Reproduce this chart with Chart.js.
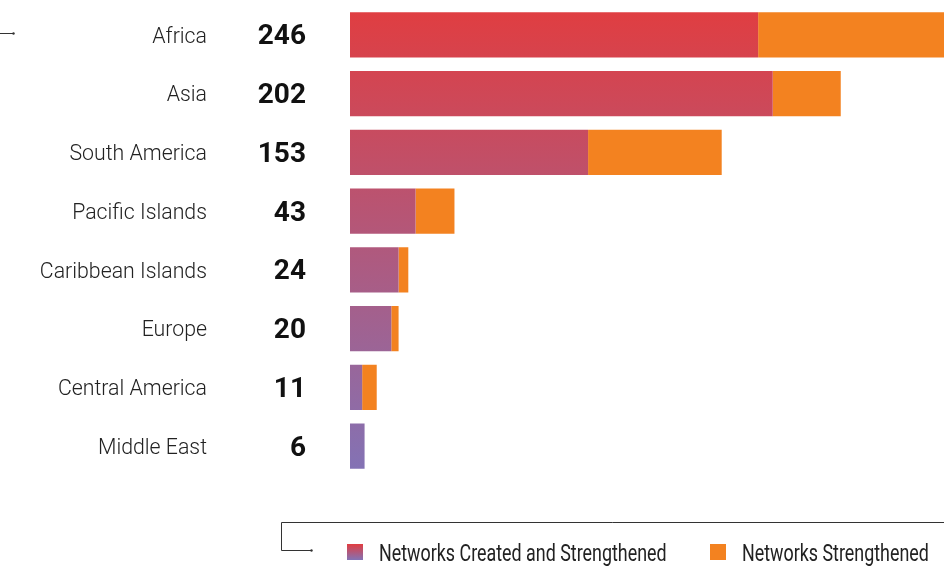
<!DOCTYPE html>
<html>
<head>
<meta charset="utf-8">
<script src="https://cdn.jsdelivr.net/npm/chart.js@4"></script>
<style>
  body { margin: 0; background: #fff; }
  #wrap { width: 944px; height: 566px; position: relative; }
</style>
</head>
<body>
<div id="wrap"><canvas id="chart"></canvas></div>
<script>
const regions = ['Africa', 'Asia', 'South America', 'Pacific Islands', 'Caribbean Islands', 'Europe', 'Central America', 'Middle East'];
const createdAndStrengthened = [168, 174, 98, 27, 20, 17, 5, 6];
const strengthened = [78, 28, 55, 16, 4, 3, 6, 0];
const totals = regions.map((r, i) => createdAndStrengthened[i] + strengthened[i]);
const legendLabels = ['Networks Created and Strengthened', 'Networks Strengthened'];

const RED = '#e13d40';
const PURPLE = '#8273b6';
const ORANGE = '#f38220';

function barGradient(ctx) {
  const chart = ctx.chart;
  const a = chart.chartArea;
  if (!a) return RED;
  const g = chart.ctx.createLinearGradient(0, a.top, 0, a.bottom);
  g.addColorStop(0, RED);
  g.addColorStop(1, PURPLE);
  return g;
}

// totals, arrows and the legend at the bottom
const decor = {
  id: 'decor',
  afterDraw(chart) {
    const c = chart.ctx;
    const y = chart.scales.y;
    c.save();
    c.fillStyle = '#111';
    c.font = 'bold 28px Roboto';
    c.textAlign = 'right';
    c.textBaseline = 'alphabetic';
    totals.forEach((t, i) => c.fillText(String(t), 306, y.getPixelForValue(i) + 9.5));

    c.strokeStyle = '#333';
    c.fillStyle = '#333';
    c.lineWidth = 1;
    // top left pointer
    c.beginPath(); c.moveTo(0, 33.5); c.lineTo(13, 33.5); c.stroke();
    c.beginPath(); c.arc(13.5, 33.5, 1.2, 0, Math.PI * 2); c.fill();
    // bottom bracket
    c.beginPath();
    c.moveTo(944, 522.5); c.lineTo(281.5, 522.5); c.lineTo(281.5, 550.5); c.lineTo(311, 550.5);
    c.stroke();
    c.beginPath(); c.arc(311.5, 550.5, 1.2, 0, Math.PI * 2); c.fill();

    // legend
    const boxes = [347, 710];
    const g = c.createLinearGradient(0, 544, 0, 560);
    g.addColorStop(0, RED);
    g.addColorStop(1, PURPLE);
    const fills = [g, ORANGE];
    c.font = '24px Roboto';
    c.textAlign = 'left';
    c.textBaseline = 'alphabetic';
    legendLabels.forEach((lab, i) => {
      c.fillStyle = fills[i];
      c.fillRect(boxes[i], 544, 16, 16);
      c.save();
      c.translate(boxes[i] + 32, 560.5);
      c.scale(0.745, 1);
      c.fillStyle = '#222';
      c.fillText(lab, 0, 0);
      c.restore();
    });
    c.restore();
  }
};

window.onload = () => {
  new Chart(document.getElementById('chart'), {
    type: 'bar',
    data: {
      labels: regions,
      datasets: [
        { label: legendLabels[0], data: createdAndStrengthened, backgroundColor: barGradient },
        { label: legendLabels[1], data: strengthened, backgroundColor: ORANGE }
      ]
    },
    options: {
      indexAxis: 'y',
      responsive: true,
      maintainAspectRatio: false,
      animation: false,
      categoryPercentage: 1,
      barPercentage: 0.767,
      layout: { padding: { top: 5.5, bottom: 90.5, left: 0, right: 0 } },
      plugins: { legend: { display: false }, tooltip: { enabled: false } },
      scales: {
        x: { stacked: true, display: false, min: 0, max: 244.5 },
        y: {
          stacked: true,
          grid: { display: false, drawTicks: false },
          border: { display: false },
          ticks: { padding: 143, labelOffset: 2.5, color: '#222', font: { family: 'Roboto', size: 21.3, weight: 300 } },
          afterFit: s => { s.width = 350; s.paddingTop = 0; s.paddingBottom = 0; }
        }
      }
    },
    plugins: [decor]
  });
};
</script>
</body>
</html>
